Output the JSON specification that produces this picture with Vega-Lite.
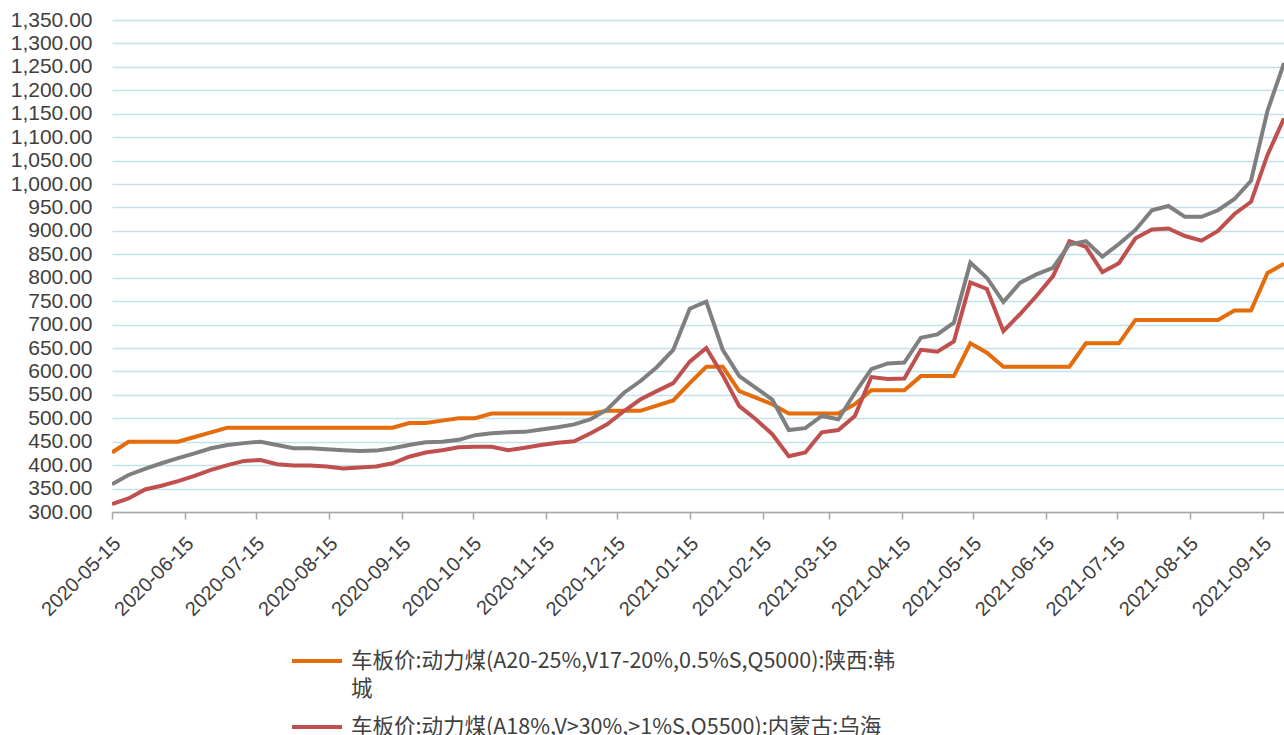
{
  "$schema": "https://vega.github.io/schema/vega-lite/v6.json",
  "width": 1172,
  "height": 492,
  "autosize": "none",
  "padding": {"left": 112, "top": 20, "right": 0, "bottom": 223},
  "background": "white",
  "config": {"view": {"stroke": null}, "font": "Liberation Sans"},
  "data": {"values": [
    {"d": "2020-05-15", "hc": 427, "wh": 317, "g": 359},
    {"d": "2020-05-22", "hc": 450, "wh": 329, "g": 379},
    {"d": "2020-05-29", "hc": 450, "wh": 348, "g": 392},
    {"d": "2020-06-05", "hc": 450, "wh": 356, "g": 404},
    {"d": "2020-06-12", "hc": 450, "wh": 366, "g": 415},
    {"d": "2020-06-19", "hc": 460, "wh": 377, "g": 425},
    {"d": "2020-06-26", "hc": 470, "wh": 390, "g": 436},
    {"d": "2020-07-03", "hc": 480, "wh": 400, "g": 443},
    {"d": "2020-07-10", "hc": 480, "wh": 409, "g": 447},
    {"d": "2020-07-17", "hc": 480, "wh": 411, "g": 450},
    {"d": "2020-07-24", "hc": 480, "wh": 402, "g": 443},
    {"d": "2020-07-31", "hc": 480, "wh": 399, "g": 436},
    {"d": "2020-08-07", "hc": 480, "wh": 399, "g": 436},
    {"d": "2020-08-14", "hc": 480, "wh": 397, "g": 434},
    {"d": "2020-08-21", "hc": 480, "wh": 393, "g": 432},
    {"d": "2020-08-28", "hc": 480, "wh": 395, "g": 430},
    {"d": "2020-09-04", "hc": 480, "wh": 397, "g": 431},
    {"d": "2020-09-11", "hc": 480, "wh": 404, "g": 436},
    {"d": "2020-09-18", "hc": 490, "wh": 418, "g": 443},
    {"d": "2020-09-25", "hc": 490, "wh": 427, "g": 449},
    {"d": "2020-10-02", "hc": 495, "wh": 432, "g": 450},
    {"d": "2020-10-09", "hc": 500, "wh": 438, "g": 454},
    {"d": "2020-10-16", "hc": 500, "wh": 439, "g": 464},
    {"d": "2020-10-23", "hc": 510, "wh": 439, "g": 468},
    {"d": "2020-10-30", "hc": 510, "wh": 432, "g": 470},
    {"d": "2020-11-06", "hc": 510, "wh": 437, "g": 471},
    {"d": "2020-11-13", "hc": 510, "wh": 443, "g": 476},
    {"d": "2020-11-20", "hc": 510, "wh": 448, "g": 481},
    {"d": "2020-11-27", "hc": 510, "wh": 451, "g": 487},
    {"d": "2020-12-04", "hc": 510, "wh": 468, "g": 498},
    {"d": "2020-12-11", "hc": 516, "wh": 487, "g": 519},
    {"d": "2020-12-18", "hc": 516, "wh": 515, "g": 554},
    {"d": "2020-12-25", "hc": 516, "wh": 540, "g": 579},
    {"d": "2021-01-01", "hc": 527, "wh": 558, "g": 609},
    {"d": "2021-01-08", "hc": 538, "wh": 575, "g": 646},
    {"d": "2021-01-15", "hc": 575, "wh": 621, "g": 734},
    {"d": "2021-01-22", "hc": 610, "wh": 650, "g": 749},
    {"d": "2021-01-29", "hc": 610, "wh": 592, "g": 646},
    {"d": "2021-02-05", "hc": 558, "wh": 526, "g": 590},
    {"d": "2021-02-12", "hc": 544, "wh": 498, "g": 565},
    {"d": "2021-02-19", "hc": 530, "wh": 466, "g": 540},
    {"d": "2021-02-26", "hc": 510, "wh": 419, "g": 475},
    {"d": "2021-03-05", "hc": 510, "wh": 427, "g": 479},
    {"d": "2021-03-12", "hc": 510, "wh": 470, "g": 505},
    {"d": "2021-03-19", "hc": 510, "wh": 475, "g": 498},
    {"d": "2021-03-26", "hc": 530, "wh": 505, "g": 554},
    {"d": "2021-04-02", "hc": 560, "wh": 588, "g": 605},
    {"d": "2021-04-09", "hc": 560, "wh": 584, "g": 617},
    {"d": "2021-04-16", "hc": 560, "wh": 585, "g": 619},
    {"d": "2021-04-23", "hc": 590, "wh": 646, "g": 672},
    {"d": "2021-04-30", "hc": 590, "wh": 642, "g": 679},
    {"d": "2021-05-07", "hc": 590, "wh": 664, "g": 704},
    {"d": "2021-05-14", "hc": 660, "wh": 790, "g": 832},
    {"d": "2021-05-21", "hc": 640, "wh": 776, "g": 800},
    {"d": "2021-05-28", "hc": 610, "wh": 686, "g": 748},
    {"d": "2021-06-04", "hc": 610, "wh": 722, "g": 789},
    {"d": "2021-06-11", "hc": 610, "wh": 761, "g": 807},
    {"d": "2021-06-18", "hc": 610, "wh": 803, "g": 821},
    {"d": "2021-06-25", "hc": 610, "wh": 878, "g": 871},
    {"d": "2021-07-02", "hc": 660, "wh": 866, "g": 878},
    {"d": "2021-07-09", "hc": 660, "wh": 812, "g": 845},
    {"d": "2021-07-16", "hc": 660, "wh": 831, "g": 872},
    {"d": "2021-07-23", "hc": 710, "wh": 884, "g": 902},
    {"d": "2021-07-30", "hc": 710, "wh": 903, "g": 944},
    {"d": "2021-08-06", "hc": 710, "wh": 905, "g": 953},
    {"d": "2021-08-13", "hc": 710, "wh": 889, "g": 930},
    {"d": "2021-08-20", "hc": 710, "wh": 879, "g": 930},
    {"d": "2021-08-27", "hc": 710, "wh": 900, "g": 944},
    {"d": "2021-09-03", "hc": 730, "wh": 936, "g": 968},
    {"d": "2021-09-10", "hc": 730, "wh": 962, "g": 1007},
    {"d": "2021-09-17", "hc": 810, "wh": 1062, "g": 1156},
    {"d": "2021-09-24", "hc": 830, "wh": 1140, "g": 1258}
  ]},
  "transform": [{"fold": ["hc", "wh", "g"], "as": ["s", "v"]}],
  "mark": {"type": "line", "strokeWidth": 4, "clip": true},
  "encoding": {
    "x": {
      "field": "d",
      "type": "temporal",
      "scale": {"type": "utc", "domain": [
        {"year": 2020, "month": 5, "date": 15, "utc": true},
        {"year": 2021, "month": 9, "date": 24, "utc": true}
      ]},
      "axis": {
        "title": null,
        "values": [
          {"year": 2020, "month": 5, "date": 15, "utc": true},
          {"year": 2020, "month": 6, "date": 15, "utc": true},
          {"year": 2020, "month": 7, "date": 15, "utc": true},
          {"year": 2020, "month": 8, "date": 15, "utc": true},
          {"year": 2020, "month": 9, "date": 15, "utc": true},
          {"year": 2020, "month": 10, "date": 15, "utc": true},
          {"year": 2020, "month": 11, "date": 15, "utc": true},
          {"year": 2020, "month": 12, "date": 15, "utc": true},
          {"year": 2021, "month": 1, "date": 15, "utc": true},
          {"year": 2021, "month": 2, "date": 15, "utc": true},
          {"year": 2021, "month": 3, "date": 15, "utc": true},
          {"year": 2021, "month": 4, "date": 15, "utc": true},
          {"year": 2021, "month": 5, "date": 15, "utc": true},
          {"year": 2021, "month": 6, "date": 15, "utc": true},
          {"year": 2021, "month": 7, "date": 15, "utc": true},
          {"year": 2021, "month": 8, "date": 15, "utc": true},
          {"year": 2021, "month": 9, "date": 15, "utc": true}
        ],
        "labelExpr": "utcFormat(datum.value, '%Y-%m-%d')",
        "labelAngle": -45,
        "labelFontSize": 20,
        "labelColor": "#404040",
        "labelOverlap": false,
        "labelFlush": false,
        "labelPadding": 14,
        "labelOffset": -2,
        "domainColor": "#a6a6a6",
        "domainWidth": 1.5,
        "tickColor": "#a6a6a6",
        "tickWidth": 1.5,
        "tickSize": 7,
        "grid": false
      }
    },
    "y": {
      "field": "v",
      "type": "quantitative",
      "scale": {"domain": [300, 1350], "nice": false, "zero": false},
      "axis": {
        "title": null,
        "values": [300, 350, 400, 450, 500, 550, 600, 650, 700, 750, 800, 850, 900, 950, 1000, 1050, 1100, 1150, 1200, 1250, 1300, 1350],
        "format": ",.2f",
        "labelFontSize": 21,
        "labelColor": "#404040",
        "labelPadding": 20,
        "domain": false,
        "ticks": false,
        "tickSize": 0,
        "grid": true,
        "gridColor": "#c3e1ec",
        "gridWidth": 1.3
      }
    },
    "color": {
      "field": "s",
      "type": "nominal",
      "scale": {"domain": ["hc", "wh", "g"], "range": ["#E46C0A", "#C0504D", "#7F7F7F"]},
      "legend": {
        "orient": "none",
        "legendX": 178,
        "legendY": 614,
        "direction": "vertical",
        "title": null,
        "symbolType": "stroke",
        "symbolSize": 2500,
        "symbolStrokeWidth": 4,
        "labelFont": "Noto Sans CJK SC",
        "labelFontSize": 21.5,
        "labelColor": "#404040",
        "labelLimit": 1000,
        "labelOffset": 7,
        "labelBaseline": "alphabetic",
        "rowPadding": 0,
        "labelExpr": "datum.value === 'hc' ? ['车板价:动力煤(A20-25%,V17-20%,0.5%S,Q5000):陕西:韩', '城'] : datum.value === 'wh' ? '车板价:动力煤(A18%,V>30%,>1%S,Q5500):内蒙古:乌海' : '车板价:动力煤(A20%,V28%,0.8%S,Q5500):内蒙古:鄂尔多斯'",
        "encode": {"labels": {"update": {"lineHeight": {"value": 27.5}, "dy": {"value": 7}}}}
      }
    }
  }
}
